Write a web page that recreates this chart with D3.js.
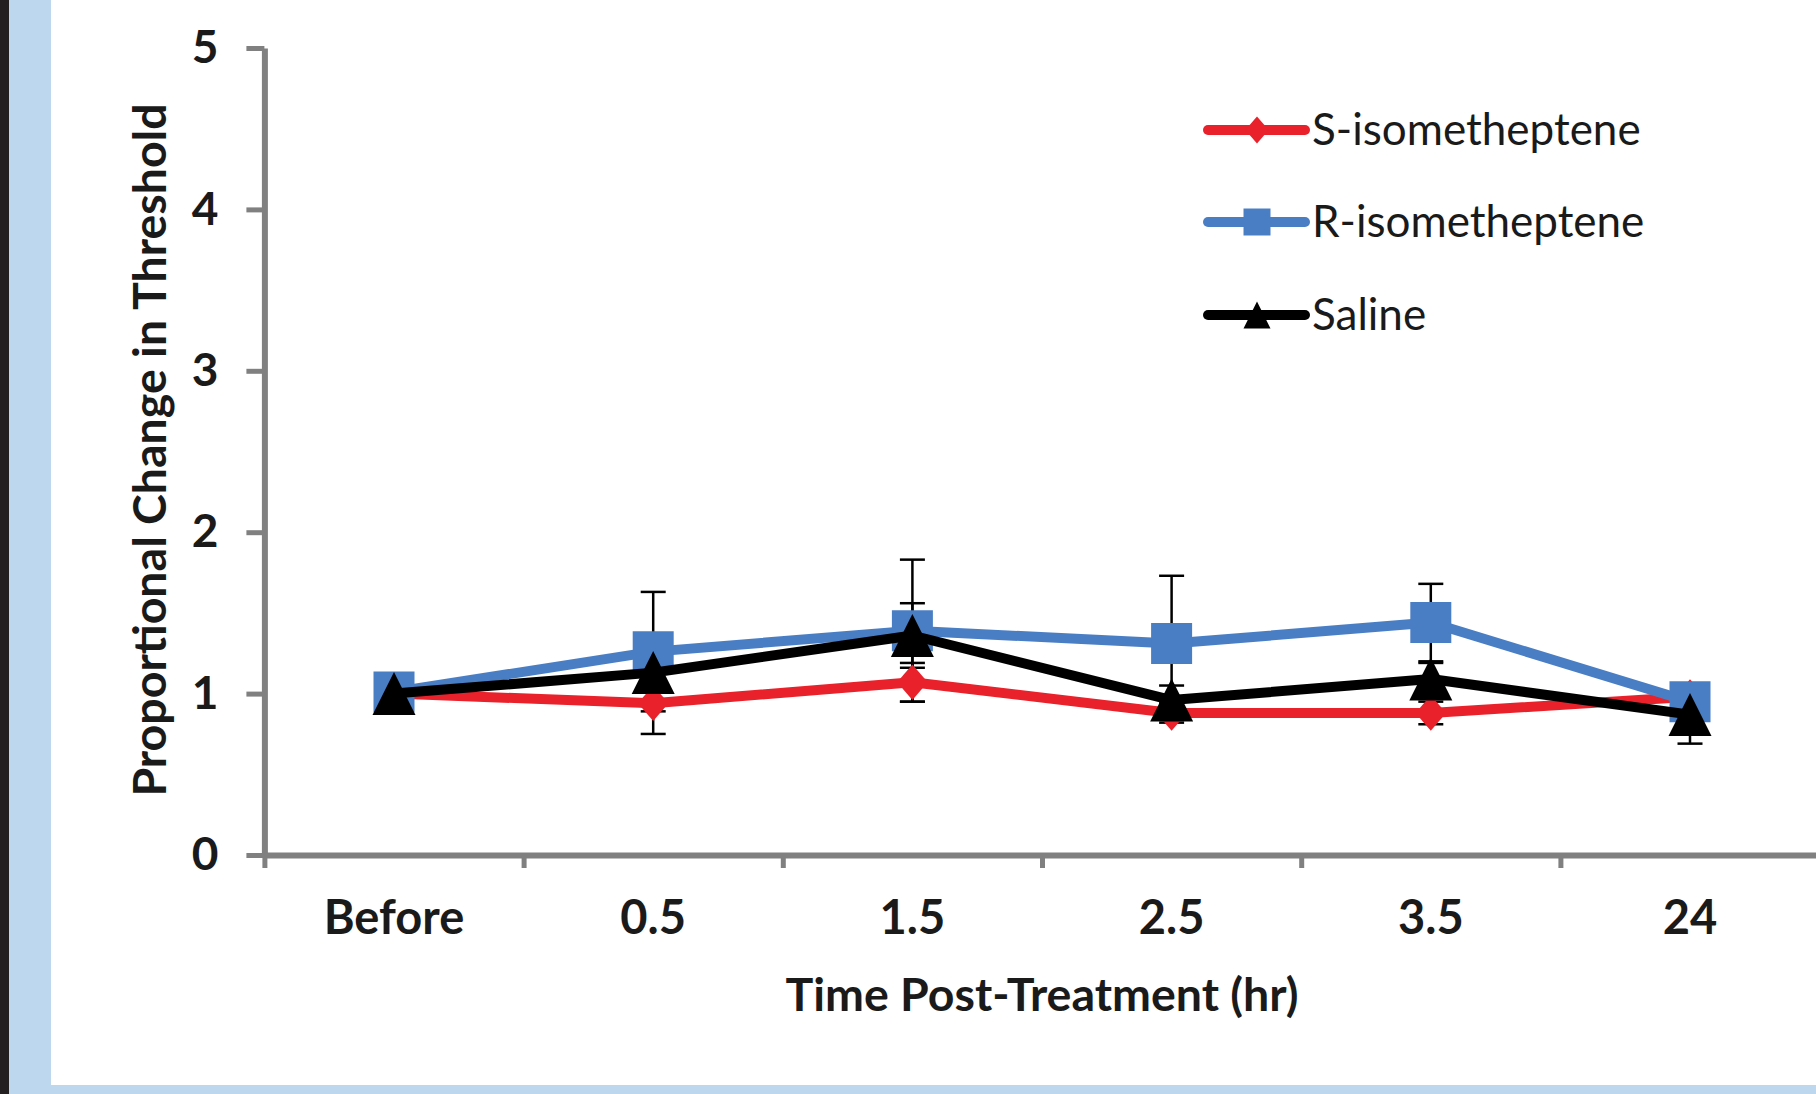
<!DOCTYPE html>
<html>
<head>
<meta charset="utf-8">
<script src="https://cdn.jsdelivr.net/npm/d3@7"></script>
<style>
  body { margin: 0; background: #fff; }
  svg text { font-family: Lato, "Open Sans", sans-serif; fill: #1a1a1a; }
</style>
</head>
<body>
<div id="chart"></div>
<script>
// categories on the x axis
var categories = ["Before", "0.5", "1.5", "2.5", "3.5", "24"];
// series means and error values
var sIso = [1.0, 0.94, 1.07, 0.88, 0.88, 0.98];
var sIsoErr = [0, 0.19, 0.12, 0.06, 0.07, 0.05];
var rIso = [1.01, 1.26, 1.39, 1.31, 1.44, 0.95];
var rIsoErr = [0, 0.37, 0.44, 0.42, 0.24, 0.05];
var saline = [1.0, 1.13, 1.36, 0.96, 1.09, 0.87];
var salineErr = [0, 0.05, 0.2, 0.09, 0.1, 0.18];
var yTicks = [0, 1, 2, 3, 4, 5];
var seriesNames = ["S-isometheptene", "R-isometheptene", "Saline"];

var w = 1816;
var h = 1094;

var svg = d3.select("#chart")
    .append("svg")
    .attr("width", w)
    .attr("height", h);

// page background: dark strip, light blue frame, white panel
svg.append("rect").attr("x", 0).attr("y", 0).attr("width", w).attr("height", h).attr("fill", "#bdd7ee");
svg.append("rect").attr("x", 0).attr("y", 0).attr("width", 9).attr("height", h).attr("fill", "#231f20");
svg.append("rect").attr("x", 51).attr("y", 0).attr("width", w - 51).attr("height", 1085).attr("fill", "#fff");

var plotLeft = 264.4, plotRight = 1819.6, plotBottom = 855, plotTop = 48;

var x = d3.scaleBand().domain(categories).range([plotLeft, plotRight]).padding(0);
var xb = d3.scaleLinear().domain([0, 6]).range([plotLeft, plotRight]);
var y = d3.scaleLinear().domain([0, 5]).range([plotBottom, plotTop]);

function cx(i) { return x(categories[i]) + x.bandwidth() / 2; }

// y axis
var yAxis = svg.append("g")
    .attr("transform", "translate(" + plotLeft + ",0)")
    .call(d3.axisLeft(y).tickValues(yTicks).tickFormat(d3.format("d")).tickSize(18).tickSizeOuter(0).tickPadding(28));
yAxis.select(".domain").attr("stroke", "#808080").attr("stroke-width", 6);
yAxis.selectAll(".tick line").attr("stroke", "#808080").attr("stroke-width", 5);
yAxis.selectAll(".tick text")
    .style("font-size", "46px").style("font-weight", "bold").attr("fill", "#1a1a1a");

// x axis with ticks between categories
var xTickAxis = svg.append("g")
    .attr("transform", "translate(0," + plotBottom + ")")
    .call(d3.axisBottom(xb).tickValues([0, 1, 2, 3, 4, 5, 6]).tickSize(13).tickSizeOuter(0).tickFormat(""));
xTickAxis.select(".domain").attr("stroke", "#808080").attr("stroke-width", 6);
xTickAxis.selectAll(".tick line").attr("stroke", "#808080").attr("stroke-width", 5);

var xAxis = svg.append("g")
    .attr("transform", "translate(0," + plotBottom + ")")
    .call(d3.axisBottom(x).tickSize(0).tickPadding(46));
xAxis.select(".domain").remove();
xAxis.selectAll(".tick text")
    .style("font-size", "47px").style("font-weight", "bold").attr("fill", "#1a1a1a");

// axis titles
svg.append("text")
    .attr("transform", "translate(166,450) rotate(-90)")
    .attr("text-anchor", "middle")
    .style("font-size", "46.5px").style("font-weight", "bold")
    .text("Proportional Change in Threshold");
svg.append("text")
    .attr("x", 1042).attr("y", 1011)
    .attr("text-anchor", "middle")
    .style("font-size", "46.5px").style("font-weight", "bold")
    .text("Time Post-Treatment (hr)");

var series = [
    { name: seriesNames[0], values: sIso, err: sIsoErr, color: "#e8212a", shape: "diamond" },
    { name: seriesNames[1], values: rIso, err: rIsoErr, color: "#4a7ec4", shape: "square" },
    { name: seriesNames[2], values: saline, err: salineErr, color: "#000000", shape: "triangle" }
];

function markerPath(shape, s) {
    if (shape === "diamond") {
        var hw = s * 0.45, hh = s * 0.52;
        return "M0," + (-hh) + "L" + hw + ",0L0," + hh + "L" + (-hw) + ",0Z";
    }
    if (shape === "square") {
        return "M" + (-s / 2) + "," + (-s / 2) + "h" + s + "v" + s + "h" + (-s) + "Z";
    }
    return "M0," + (-s / 2) + "L" + (s / 2) + "," + (s / 2) + "L" + (-s / 2) + "," + (s / 2) + "Z";
}
var markerSize = { diamond: 34, square: 41, triangle: 43 };

// error bars behind everything
series.forEach(function(sr) {
    var g = svg.append("g").attr("stroke", "#000").attr("stroke-width", 2.5);
    sr.values.forEach(function(v, i) {
        var e = sr.err[i];
        if (e <= 0) return;
        g.append("line").attr("x1", cx(i)).attr("x2", cx(i)).attr("y1", y(v + e)).attr("y2", y(v - e));
        [v + e, v - e].forEach(function(t) {
            g.append("line").attr("x1", cx(i) - 12.5).attr("x2", cx(i) + 12.5).attr("y1", y(t)).attr("y2", y(t));
        });
    });
});

var line = d3.line()
    .x(function(d, i) { return cx(i); })
    .y(function(d) { return y(d); });

series.forEach(function(sr) {
    svg.append("path")
        .datum(sr.values)
        .attr("d", line)
        .attr("fill", "none")
        .attr("stroke", sr.color)
        .attr("stroke-width", 10)
        .attr("stroke-linejoin", "round");
    svg.selectAll(null)
        .data(sr.values)
        .enter()
        .append("path")
        .attr("transform", function(d, i) { return "translate(" + cx(i) + "," + y(d) + ")"; })
        .attr("d", markerPath(sr.shape, markerSize[sr.shape]))
        .attr("fill", sr.color);
});

// legend
var legendRows = [130, 222, 315];
var legendMarker = { diamond: 26, square: 27, triangle: 27 };
series.forEach(function(sr, i) {
    var g = svg.append("g").attr("transform", "translate(0," + legendRows[i] + ")");
    g.append("line")
        .attr("x1", 1208).attr("x2", 1305).attr("y1", 0).attr("y2", 0)
        .attr("stroke", sr.color).attr("stroke-width", 10).attr("stroke-linecap", "round");
    g.append("path")
        .attr("transform", "translate(1257,0)")
        .attr("d", markerPath(sr.shape, legendMarker[sr.shape]))
        .attr("fill", sr.color);
    g.append("text")
        .attr("x", 1312).attr("y", 15)
        .style("font-size", "44px")
        .text(sr.name);
});
</script>
</body>
</html>
